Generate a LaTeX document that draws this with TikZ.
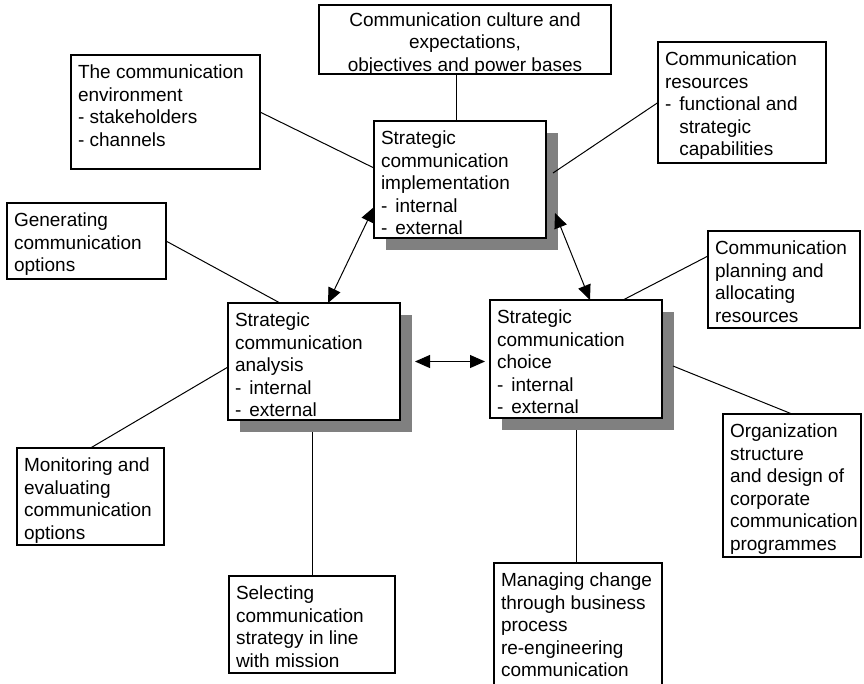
\documentclass[tikz,border=0pt]{standalone}
\usepackage{fontspec}
\setmainfont{Liberation Sans}
\usetikzlibrary{arrows.meta,backgrounds}

% text block of a box: width, height, first baseline, lines
\newcommand\boxtext[4]{\parbox[c][#2][t]{#1}{\leftskip=7pt\rightskip=0pt plus 1fil\parindent=0pt\parfillskip=0pt plus 1fil\rule{0pt}{#3}#4}}
\newcommand\cboxtext[4]{\parbox[c][#2][t]{#1}{\centering\rule{0pt}{#3}#4}}
\newcommand\lead{-\hspace{8pt}}
\newcommand\hang{\hspace*{14.3pt}}

\tikzset{
  box/.style={draw, line width=1.1pt, fill=white, inner sep=0pt, outer sep=0pt,
    anchor=north west, font=\fontsize{19}{22.5}\selectfont},
  shadowfill/.style={fill=gray, draw=none},
  link/.style={line width=1pt},
  dual/.style={link, >={Triangle[length=15pt,width=13pt]}, <->}
}

\begin{document}
\begin{tikzpicture}[x=1pt, y=-1pt]
\path[use as bounding box] (0,0) rectangle (864,683);
\begin{scope}
\clip (0,0) rectangle (864,683);

% boxes
\node[box] (culture) at (319,5) {\cboxtext{292pt}{69pt}{21pt}{Communication culture and\\expectations,\\objectives and power bases}};
\node[box] (env) at (71,55) {\boxtext{189pt}{114pt}{23.5pt}{The communication\\environment\\- stakeholders\\- channels}};
\node[box] (res) at (658,42) {\boxtext{168pt}{121pt}{23.5pt}{Communication\\resources\\\lead functional and\\\hang strategic\\\hang capabilities}};
\node[box] (impl) at (374,121) {\boxtext{172pt}{117pt}{23.5pt}{Strategic\\communication\\implementation\\\lead internal\\\lead external}};
\node[box] (gen) at (7,203) {\boxtext{159pt}{76pt}{23.5pt}{Generating\\communication\\options}};
\node[box] (sa) at (228,303) {\boxtext{172pt}{117pt}{23.5pt}{Strategic\\communication\\analysis\\\lead internal\\\lead external}};
\node[box] (ch) at (490,300) {\boxtext{172pt}{118pt}{23.5pt}{Strategic\\communication\\choice\\\lead internal\\\lead external}};
\node[box] (plan) at (708,231) {\boxtext{152pt}{97pt}{23.5pt}{Communication\\planning and\\allocating\\resources}};
\node[box] (org) at (723,414) {\boxtext{138pt}{143pt}{23.5pt}{Organization\\structure\\and design of\\corporate\\communication\\programmes}};
\node[box] (mon) at (17,448) {\boxtext{147pt}{97pt}{23.5pt}{Monitoring and\\evaluating\\communication\\options}};
\node[box] (sel) at (229,576) {\boxtext{166pt}{97pt}{23.5pt}{Selecting\\communication\\strategy in line\\with mission}};
\node[box] (man) at (494,563) {\boxtext{168pt}{140pt}{23.5pt}{Managing change\\through business\\process\\re-engineering\\communication}};

% white page and drop shadows of the three strategic boxes
\begin{scope}[on background layer]
  \fill[white] (0,0) rectangle (864,683);
  \foreach \b in {impl,sa,ch}
    \fill[shadowfill] ([xshift=12pt,yshift=-12pt]\b.north west) rectangle ([xshift=12pt,yshift=-12pt]\b.south east);
\end{scope}

\coordinate (c1) at ([xshift=-4pt]impl.north);
\coordinate (sa-low) at ([yshift=-12pt]sa.south);
\coordinate (ch-low) at ([yshift=-12pt]ch.south);

% plain links
\draw[link] (c1) -- (c1 |- culture.south);
\draw[link] (env.east) -- ([yshift=11.5pt]impl.west);
\draw[link] (res.west) -- ([xshift=7pt,yshift=6.5pt]impl.east);
\draw[link] (gen.east) -- ([xshift=-34pt]sa.north);
\draw[link] (mon.north) -- ([yshift=-5.5pt]sa.west);
\draw[link] ([xshift=47pt]ch.north) -- ([yshift=23.5pt]plan.west);
\draw[link] ([xshift=11pt,yshift=-7pt]ch.east) -- (org.north);
\draw[link] (ch-low) -- (ch-low |- man.north);
\draw[link] (sel.north |- sa-low) -- (sel.north);

% two-way arrows between the strategic boxes
\draw[dual] ([xshift=14pt]sa.north) -- ([yshift=-27.5pt]impl.west);
\draw[dual] ([xshift=9pt,yshift=-33.5pt]impl.east) -- ([xshift=14pt]ch.north);
\draw[dual] ([xshift=15pt]sa.east) -- ([xshift=-5pt,yshift=-2.5pt]ch.west);
\end{scope}
\end{tikzpicture}
\end{document}
